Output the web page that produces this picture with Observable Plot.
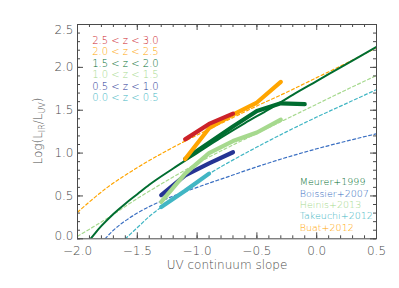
<!DOCTYPE html>
<html><head><meta charset="utf-8">
<script src="https://cdn.jsdelivr.net/npm/d3@7"></script>
<script src="https://cdn.jsdelivr.net/npm/@observablehq/plot@0.6"></script>
<style>body{margin:0;background:#fff} svg text{font-weight:200}</style>
</head><body><div id="chart"></div>
<script>
// redshift bins (thick lines)
const zLabels = ["2.5 < z < 3.0", "2.0 < z < 2.5", "1.5 < z < 2.0", "1.0 < z < 1.5", "0.5 < z < 1.0", "0.0 < z < 0.5"];
const zColors = ["#cc2229", "#ffa500", "#006d30", "#a6d98e", "#253494", "#41b6c4"];
const betaZ25 = [-1.1, -0.9, -0.7];
const irxZ25  = [1.16, 1.34, 1.46];
const betaZ20 = [-1.1, -0.9, -0.7, -0.5, -0.3];
const irxZ20  = [0.93, 1.29, 1.45, 1.59, 1.83];
const betaZ15 = [-1.1, -0.9, -0.7, -0.5, -0.3, -0.1];
const irxZ15  = [0.93, 1.12, 1.31, 1.49, 1.58, 1.57];
const betaZ10 = [-1.3, -1.1, -0.9, -0.7, -0.5, -0.3];
const irxZ10  = [0.43, 0.76, 1.00, 1.14, 1.24, 1.39];
const betaZ05 = [-1.3, -1.1, -0.9, -0.7];
const irxZ05  = [0.51, 0.74, 0.88, 1.01];
const betaZ00 = [-1.3, -1.1, -0.9];
const irxZ00  = [0.37, 0.56, 0.76];

// literature relations
const relNames  = ["Meurer+1999", "Boissier+2007", "Heinis+2013", "Takeuchi+2012", "Buat+2012"];
const relColors = ["#006d30", "#3a6fc2", "#a6d98e", "#41b6c4", "#ffa500"];
const betaMeurer = [-1.89, -1.85, -1.8, -1.7, -1.6, -1.5, -1.4, -1.2, -1.0, -0.8, -0.6, -0.4, -0.2, 0.0, 0.2, 0.5];
const irxMeurer  = [0.0, 0.07, 0.15, 0.29, 0.41, 0.52, 0.63, 0.82, 1.0, 1.18, 1.35, 1.51, 1.68, 1.84, 2.0, 2.24];
const betaBoissier = [-1.77, -1.7, -1.6, -1.5, -1.25, -1.0, -0.75, -0.5, -0.25, 0.0, 0.25, 0.5];
const irxBoissier  = [0.0, 0.10, 0.21, 0.30, 0.47, 0.60, 0.72, 0.84, 0.95, 1.05, 1.14, 1.225];
const betaHeinis = [-2.0, -1.75, -1.5, -1.25, -1.0, -0.75, -0.5, -0.25, 0.0, 0.25, 0.5];
const irxHeinis  = [0.03, 0.24, 0.47, 0.68, 0.88, 1.06, 1.23, 1.40, 1.57, 1.74, 1.905];
const betaTakeuchi = [-1.6, -1.5, -1.4, -1.25, -1.0, -0.75, -0.5, -0.25, 0.0, 0.25, 0.5];
const irxTakeuchi  = [0.0, 0.13, 0.26, 0.42, 0.67, 0.88, 1.07, 1.25, 1.42, 1.58, 1.74];
const betaBuat = [-2.0, -1.75, -1.5, -1.25, -1.0, -0.75, -0.5, -0.25, 0.0, 0.25, 0.5];
const irxBuat  = [0.31, 0.60, 0.83, 1.03, 1.21, 1.38, 1.55, 1.71, 1.88, 2.05, 2.23];

// axes
const xTicks = [-2, -1.5, -1, -0.5, 0, 0.5];
const xTickLabels = ["\u22122.0", "\u22121.5", "\u22121.0", "\u22120.5", "0.0", "0.5"];
const yTicks = [0, 0.5, 1, 1.5, 2, 2.5];
const yTickLabels = ["0.0", "0.5", "1.0", "1.5", "2.0", "2.5"];
const xTitle = "UV continuum slope";

const rows = (b, v) => b.map((x, i) => ({beta: x, irx: v[i]}));
const xMinor = d3.range(-20, 6).map(k => k / 10);
const yMinor = d3.range(0, 26).map(k => k / 10);

const thick = [
  [betaZ00, irxZ00, 5], [betaZ05, irxZ05, 4], [betaZ10, irxZ10, 3],
  [betaZ15, irxZ15, 2], [betaZ20, irxZ20, 1], [betaZ25, irxZ25, 0]
];
const dashed = [
  [betaBoissier, irxBoissier, 1], [betaHeinis, irxHeinis, 2],
  [betaTakeuchi, irxTakeuchi, 3], [betaBuat, irxBuat, 4]
];

const axisCol = "#4a4a4a";
const W = 399, H = 288, ML = 77, MR = 23, MT = 24, MB = 49.7;
const FW = W - ML - MR, FH = H - MT - MB;

const svg = Plot.plot({
  width: W, height: H,
  marginLeft: ML, marginRight: MR, marginTop: MT, marginBottom: MB,
  x: {domain: [-2, 0.5]},
  y: {domain: [0, 2.5]},
  style: {fontFamily: "DejaVu Sans", fontSize: "12px", color: axisCol, background: "white"},
  marks: [
    ...dashed.map(([b, v, c]) => Plot.line(rows(b, v), {x: "beta", y: "irx", stroke: relColors[c], strokeWidth: 1.2, strokeDasharray: "3,2.5", curve: "monotone-x", clip: true})),
    Plot.line(rows(betaMeurer, irxMeurer), {x: "beta", y: "irx", stroke: relColors[0], strokeWidth: 2, curve: "monotone-x", clip: true}),
    ...thick.map(([b, v, c]) => Plot.line(rows(b, v), {x: "beta", y: "irx", stroke: zColors[c], strokeWidth: 4.2, strokeLinejoin: "round"})),
    // ticks inside on all four sides
    Plot.tickX(xMinor, {x: d => d, insetTop: FH - 3, stroke: axisCol}),
    Plot.tickX(xTicks, {x: d => d, insetTop: FH - 6, stroke: axisCol}),
    Plot.tickX(xMinor, {x: d => d, insetBottom: FH - 3, stroke: axisCol}),
    Plot.tickX(xTicks, {x: d => d, insetBottom: FH - 6, stroke: axisCol}),
    Plot.tickY(yMinor, {y: d => d, insetRight: FW - 3, stroke: axisCol}),
    Plot.tickY(yTicks, {y: d => d, insetRight: FW - 6, stroke: axisCol}),
    Plot.tickY(yMinor, {y: d => d, insetLeft: FW - 3, stroke: axisCol}),
    Plot.tickY(yTicks, {y: d => d, insetLeft: FW - 6, stroke: axisCol}),
    Plot.axisX(xTicks, {tickSize: 0, tickPadding: 8, label: null, tickFormat: d => xTickLabels[xTicks.indexOf(d)]}),
    Plot.axisY([0.5, 1, 1.5, 2], {tickSize: 0, tickPadding: 4, label: null, tickFormat: d => yTickLabels[yTicks.indexOf(d)]}),
    Plot.axisY([2.5], {tickSize: 0, tickPadding: 4, label: null, dy: 6, tickFormat: d => yTickLabels[yTicks.indexOf(d)]}),
    Plot.axisY([0], {tickSize: 0, tickPadding: 4, label: null, dy: -3, tickFormat: d => yTickLabels[yTicks.indexOf(d)]}),
    Plot.frame({stroke: axisCol}),
    Plot.text([xTitle], {frameAnchor: "bottom", dy: 30, fontSize: 12, fill: axisCol}),
    ...zLabels.map((t, i) => Plot.text([t], {frameAnchor: "top-left", dx: 14.7, dy: 16 + i * 11.5, fill: zColors[i], fontSize: 10, textAnchor: "start", lineAnchor: "middle"})),
    ...relNames.map((t, i) => Plot.text([t], {frameAnchor: "top-left", dx: 222.3, dy: 157.7 + i * 11.4, fill: relColors[i], fontSize: 9.5, textAnchor: "start", lineAnchor: "middle"}))
  ]
});

// y-axis title with subscripts
const yt = d3.select(svg).append("text")
  .attr("transform", "translate(42,131) rotate(-90)")
  .attr("text-anchor", "middle")
  .attr("fill", axisCol)
  .attr("font-size", 12);
yt.append("tspan").text("Log(L");
yt.append("tspan").attr("font-size", 8).attr("dy", 3).text("IR");
yt.append("tspan").attr("dy", -3).text("/L");
yt.append("tspan").attr("font-size", 8).attr("dy", 3).text("UV");
yt.append("tspan").attr("dy", -3).text(")");

document.getElementById("chart").append(svg);
</script>
</body></html>
